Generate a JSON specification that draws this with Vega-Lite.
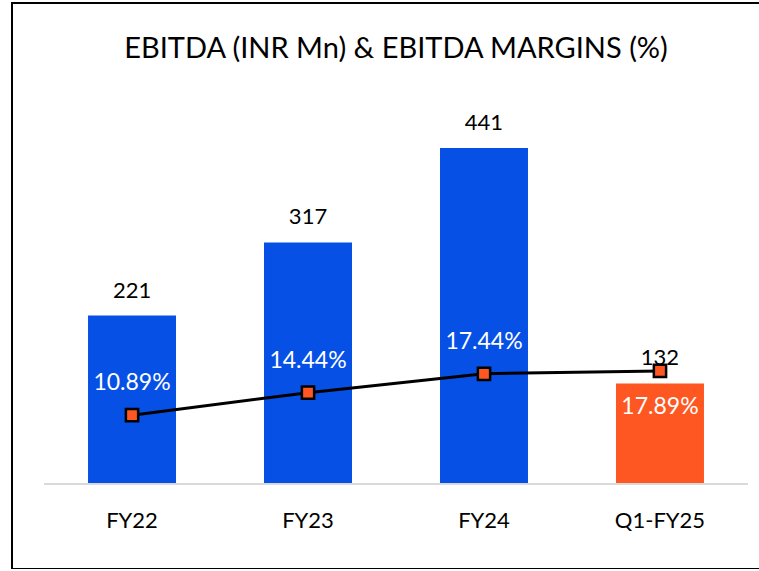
{
  "$schema": "https://vega.github.io/schema/vega-lite/v6.json",
  "width": 768,
  "height": 566,
  "autosize": {"type": "none"},
  "padding": {"left": 12, "top": 3, "right": 0, "bottom": 0},
  "background": "white",
  "title": {
    "text": "EBITDA (INR Mn) & EBITDA MARGINS (%)",
    "font": "Lato",
    "fontSize": 29,
    "fontWeight": "normal",
    "color": "#000000",
    "anchor": "middle",
    "baseline": "middle",
    "offset": -75
  },
  "config": {
    "view": {"stroke": "#000000", "strokeWidth": 2},
    "text": {"font": "Lato"}
  },
  "data": {
    "values": [
      {"period": "FY22", "ebitda": 221, "margin": 10.89, "margin_label": "10.89%", "kind": "FY"},
      {"period": "FY23", "ebitda": 317, "margin": 14.44, "margin_label": "14.44%", "kind": "FY"},
      {"period": "FY24", "ebitda": 441, "margin": 17.44, "margin_label": "17.44%", "kind": "FY"},
      {"period": "Q1-FY25", "ebitda": 132, "margin": 17.89, "margin_label": "17.89%", "kind": "Q"}
    ]
  },
  "encoding": {
    "x": {
      "field": "period",
      "type": "nominal",
      "sort": null,
      "scale": {"paddingInner": 0.5, "paddingOuter": 0.432},
      "axis": {
        "title": null,
        "labelAngle": 0,
        "domain": false,
        "ticks": false,
        "offset": -85,
        "labelPadding": 36,
        "labelBaseline": "middle",
        "labelFont": "Lato",
        "labelFontSize": 22,
        "labelColor": "#000000"
      }
    }
  },
  "layer": [
    {
      "layer": [
        {
          "mark": {"type": "bar"},
          "encoding": {
            "y": {"field": "ebitda", "type": "quantitative", "scale": {"domain": [-111.5, 631.2], "nice": false, "zero": false}, "axis": null},
            "color": {"field": "kind", "type": "nominal", "scale": {"domain": ["FY", "Q"], "range": ["#0750E6", "#FF5722"]}, "legend": null}
          }
        },
        {
          "mark": {"type": "rule", "color": "#d9d9d9", "strokeWidth": 2},
          "encoding": {
            "x": {"datum": "FY22", "bandPosition": -0.5},
            "x2": {"datum": "Q1-FY25", "bandPosition": 1.5},
            "y": {"datum": 0, "type": "quantitative"}
          }
        },
        {
          "mark": {"type": "text", "baseline": "alphabetic", "dy": -18, "fontSize": 22, "color": "#000000"},
          "encoding": {
            "y": {"field": "ebitda", "type": "quantitative"},
            "text": {"field": "ebitda", "type": "quantitative"}
          }
        }
      ]
    },
    {
      "layer": [
        {
          "mark": {"type": "line", "color": "#000000", "strokeWidth": 3},
          "encoding": {
            "y": {"field": "margin", "type": "quantitative", "scale": {"domain": [-13.45, 76.1], "nice": false, "zero": false}, "axis": null}
          }
        },
        {
          "mark": {"type": "point", "shape": "square", "filled": true, "fill": "#FF5722", "stroke": "#000000", "strokeWidth": 2.5, "size": 150, "opacity": 1},
          "encoding": {
            "y": {"field": "margin", "type": "quantitative"}
          }
        },
        {
          "transform": [{"filter": "datum.kind == 'FY'"}],
          "mark": {"type": "text", "baseline": "middle", "dy": -32, "fontSize": 23, "color": "#ffffff"},
          "encoding": {
            "y": {"field": "margin", "type": "quantitative"},
            "text": {"field": "margin_label", "type": "nominal"}
          }
        },
        {
          "transform": [{"filter": "datum.kind == 'Q'"}],
          "mark": {"type": "text", "baseline": "middle", "dy": 36, "fontSize": 23, "color": "#ffffff"},
          "encoding": {
            "y": {"field": "margin", "type": "quantitative"},
            "text": {"field": "margin_label", "type": "nominal"}
          }
        }
      ]
    }
  ],
  "resolve": {"scale": {"y": "independent"}}
}
